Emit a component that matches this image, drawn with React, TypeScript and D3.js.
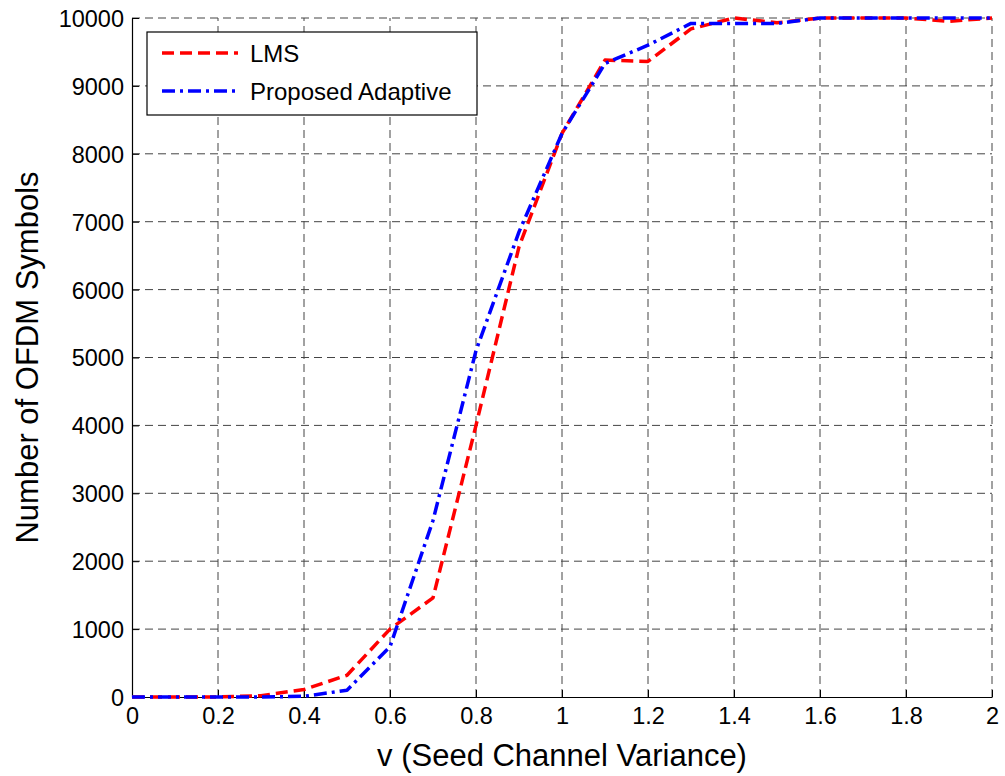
import React, { useRef, useEffect } from "react";
import * as d3 from "d3";

// v values (seed channel variance)
const variance = [0, 0.1, 0.2, 0.3, 0.4, 0.5, 0.6, 0.7, 0.8, 0.9, 1.0, 1.1, 1.2, 1.3, 1.4, 1.5, 1.6, 1.7, 1.8, 1.9, 2.0];
const lms = [0, 0, 0, 20, 110, 320, 1000, 1460, 4000, 6630, 8300, 9380, 9360, 9840, 10000, 9930, 10000, 10000, 10000, 9950, 10000];
const adaptive = [0, 0, 0, 0, 10, 100, 740, 2600, 5100, 6850, 8300, 9330, 9600, 9920, 9920, 9920, 10000, 10000, 10000, 10000, 10000];
const xTicks = [0, 0.2, 0.4, 0.6, 0.8, 1, 1.2, 1.4, 1.6, 1.8, 2];
const yTicks = [0, 1000, 2000, 3000, 4000, 5000, 6000, 7000, 8000, 9000, 10000];

const App = () => {
  const svgRef = useRef();

  useEffect(() => {
    const width = 1005;
    const height = 776;
    const margin = { top: 18, right: 13, bottom: 79, left: 132 };
    const font = "Liberation Sans, Arial, sans-serif";

    const svg = d3.select(svgRef.current);
    svg.selectAll("*").remove();

    const x = d3.scaleLinear().domain([0, 2]).range([margin.left, width - margin.right]);
    const y = d3.scaleLinear().domain([0, 10000]).range([height - margin.bottom, margin.top]);

    // grid
    const grid = svg.append("g").attr("stroke", "#444").attr("stroke-width", 1).attr("stroke-dasharray", "8,5");
    grid.selectAll(".gx")
      .data(xTicks.slice(1))
      .enter()
      .append("line")
      .attr("x1", d => x(d)).attr("x2", d => x(d))
      .attr("y1", y(0)).attr("y2", y(10000));
    grid.selectAll(".gy")
      .data(yTicks.slice(1))
      .enter()
      .append("line")
      .attr("y1", d => y(d)).attr("y2", d => y(d))
      .attr("x1", x(0)).attr("x2", x(2));

    // axes
    const xAxis = svg.append("g")
      .attr("transform", `translate(0,${y(0)})`)
      .call(d3.axisBottom(x).tickValues(xTicks).tickFormat(d3.format("")).tickSizeInner(-7).tickSizeOuter(0).tickPadding(10));
    const yAxis = svg.append("g")
      .attr("transform", `translate(${x(0)},0)`)
      .call(d3.axisLeft(y).tickValues(yTicks).tickFormat(d3.format("d")).tickSizeInner(-7).tickSizeOuter(0).tickPadding(8));

    [xAxis, yAxis].forEach(a => {
      a.select(".domain").attr("stroke", "#000").attr("stroke-width", 1.2);
      a.selectAll(".tick line").attr("stroke", "#000");
      a.selectAll(".tick text")
        .attr("font-family", font)
        .attr("font-size", "23.5px")
        .attr("fill", "#000");
    });
    yAxis.selectAll(".tick text").attr("dy", "0.36em");

    const line = d3.line()
      .x((d, i) => x(variance[i]))
      .y(d => y(d));

    svg.append("path")
      .datum(lms)
      .attr("fill", "none")
      .attr("stroke", "#ff0000")
      .attr("stroke-width", 3.5)
      .attr("stroke-dasharray", "12,6")
      .attr("stroke-linejoin", "round")
      .attr("d", line);

    svg.append("path")
      .datum(adaptive)
      .attr("fill", "none")
      .attr("stroke", "#0000ff")
      .attr("stroke-width", 3.5)
      .attr("stroke-dasharray", "13,5,3,5")
      .attr("stroke-linejoin", "round")
      .attr("d", line);

    // axis labels
    svg.append("text")
      .attr("x", (x(0) + x(2)) / 2)
      .attr("y", 766)
      .attr("text-anchor", "middle")
      .attr("font-family", font)
      .attr("font-size", "31px")
      .text("v (Seed Channel Variance)");

    svg.append("text")
      .attr("transform", `translate(38,${(y(0) + y(10000)) / 2}) rotate(-90)`)
      .attr("text-anchor", "middle")
      .attr("font-family", font)
      .attr("font-size", "31px")
      .text("Number of OFDM Symbols");

    // Legend
    const legendData = [
      { label: "LMS", color: "#ff0000", dash: "12,6" },
      { label: "Proposed Adaptive", color: "#0000ff", dash: "13,5,3,5" },
    ];

    svg.append("rect")
      .attr("x", 147)
      .attr("y", 32)
      .attr("width", 330)
      .attr("height", 83)
      .attr("fill", "#fff")
      .attr("stroke", "#000")
      .attr("stroke-width", 1.2);

    const legend = svg.selectAll(".legend")
      .data(legendData)
      .enter()
      .append("g")
      .attr("class", "legend")
      .attr("transform", (d, i) => `translate(162, ${53 + i * 38})`);

    legend.append("line")
      .attr("x1", 0)
      .attr("x2", 76)
      .attr("stroke", d => d.color)
      .attr("stroke-width", 3.5)
      .attr("stroke-dasharray", d => d.dash);

    legend.append("text")
      .attr("x", 88)
      .attr("y", 8.5)
      .attr("font-family", font)
      .attr("font-size", "24px")
      .attr("fill", "#000")
      .text(d => d.label);
  }, []);

  return (
    <div style={{ position: "absolute", left: 0, top: 0, width: "1005px", height: "776px", background: "#fff" }}>
      <svg ref={svgRef} width={1005} height={776}></svg>
    </div>
  );
};

export default App;
